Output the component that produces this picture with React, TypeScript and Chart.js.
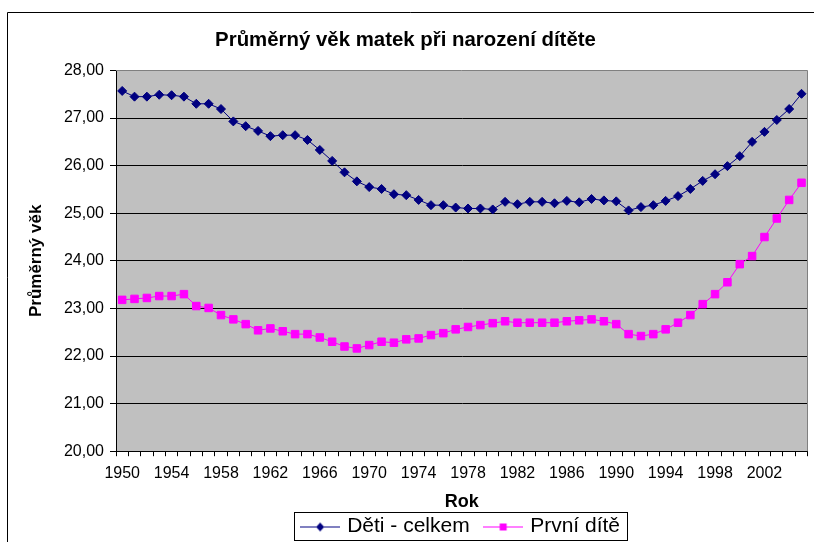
import React, { useEffect, useRef } from 'react';
import { Chart, registerables } from 'chart.js';

Chart.register(...registerables);

const years = [
  '1950', '1951', '1952', '1953', '1954', '1955', '1956', '1957', '1958', '1959',
  '1960', '1961', '1962', '1963', '1964', '1965', '1966', '1967', '1968', '1969',
  '1970', '1971', '1972', '1973', '1974', '1975', '1976', '1977', '1978', '1979',
  '1980', '1981', '1982', '1983', '1984', '1985', '1986', '1987', '1988', '1989',
  '1990', '1991', '1992', '1993', '1994', '1995', '1996', '1997', '1998', '1999',
  '2000', '2001', '2002', '2003', '2004', '2005',
];

const detiCelkem = [
  27.57, 27.45, 27.45, 27.49, 27.48, 27.45, 27.30, 27.30, 27.19, 26.93,
  26.83, 26.73, 26.62, 26.64, 26.64, 26.54, 26.33, 26.10, 25.86, 25.67,
  25.55, 25.51, 25.40, 25.38, 25.28, 25.17, 25.17, 25.12, 25.10, 25.10,
  25.08, 25.24, 25.19, 25.24, 25.24, 25.21, 25.26, 25.23, 25.30, 25.27,
  25.25, 25.06, 25.13, 25.17, 25.26, 25.36, 25.51, 25.68, 25.82, 25.99,
  26.20, 26.50, 26.71, 26.96, 27.19, 27.51,
];

const prvniDite = [
  23.18, 23.20, 23.22, 23.26, 23.26, 23.30, 23.05, 23.01, 22.86, 22.77,
  22.67, 22.54, 22.58, 22.52, 22.46, 22.46, 22.39, 22.30, 22.20, 22.16,
  22.23, 22.30, 22.28, 22.35, 22.37, 22.44, 22.48, 22.56, 22.61, 22.65,
  22.69, 22.73, 22.70, 22.70, 22.70, 22.70, 22.73, 22.75, 22.77, 22.73,
  22.67, 22.46, 22.42, 22.46, 22.56, 22.70, 22.86, 23.09, 23.30, 23.55,
  23.93, 24.10, 24.50, 24.89, 25.28, 25.64,
];

const seriesNames = ['Děti - celkem', 'První dítě'];
const titleText = 'Průměrný věk matek při narození dítěte';
const yTitle = 'Průměrný věk';
const xTitle = 'Rok';
const yMin = 20;
const yMax = 28;

const FONT = "'Liberation Sans', Arial, sans-serif";

function legendIcon(color: string, shape: 'diamond' | 'square'): HTMLCanvasElement {
  const c = document.createElement('canvas');
  c.width = 40;
  c.height = 12;
  const g = c.getContext('2d')!;
  g.strokeStyle = color;
  g.lineWidth = 1;
  g.beginPath();
  g.moveTo(0, 6.5);
  g.lineTo(40, 6.5);
  g.stroke();
  g.fillStyle = color;
  g.beginPath();
  if (shape === 'diamond') {
    g.moveTo(20, 2);
    g.lineTo(24, 6.5);
    g.lineTo(20, 11);
    g.lineTo(16, 6.5);
    g.closePath();
  } else {
    g.rect(16.5, 3, 7, 7);
  }
  g.fill();
  return c;
}

const decorPlugin = {
  id: 'decor',
  beforeDraw(chart: any) {
    const { ctx, chartArea: a } = chart;
    ctx.save();
    ctx.fillStyle = '#C0C0C0';
    ctx.fillRect(a.left, a.top, a.right - a.left, a.bottom - a.top);
    ctx.strokeStyle = '#000000';
    ctx.lineWidth = 1;
    ctx.beginPath();
    ctx.moveTo(7.5, chart.height);
    ctx.lineTo(7.5, 12.5);
    ctx.lineTo(chart.width, 12.5);
    ctx.stroke();
    ctx.restore();
  },
  beforeDatasetsDraw(chart: any) {
    const { ctx, chartArea: a } = chart;
    ctx.save();
    ctx.strokeStyle = '#808080';
    ctx.lineWidth = 1;
    ctx.beginPath();
    ctx.moveTo(a.left, Math.round(a.top) + 0.5);
    ctx.lineTo(Math.round(a.right) - 0.5, Math.round(a.top) + 0.5);
    ctx.lineTo(Math.round(a.right) - 0.5, a.bottom);
    ctx.stroke();
    ctx.restore();
  },
  afterDraw(chart: any) {
    const lg = chart.legend;
    if (!lg || !lg.legendHitBoxes || !lg.legendHitBoxes.length) return;
    const hb = lg.legendHitBoxes;
    let l = Infinity, r = -Infinity, t = Infinity, b = -Infinity;
    hb.forEach((h: any) => {
      l = Math.min(l, h.left);
      r = Math.max(r, h.left + h.width);
      t = Math.min(t, h.top);
      b = Math.max(b, h.top + h.height);
    });
    const { ctx } = chart;
    ctx.save();
    ctx.strokeStyle = '#000000';
    ctx.lineWidth = 1;
    ctx.strokeRect(Math.round(l - 10) + 0.5, Math.round(t - 4) + 0.5, Math.round(r - l + 17), Math.round(b - t + 7));
    ctx.restore();
  },
};

export default function App() {
  const ref = useRef<HTMLCanvasElement | null>(null);

  useEffect(() => {
    document.body.style.margin = '0';
    const canvas = ref.current;
    if (!canvas) return;
    const icons = [legendIcon('#000080', 'diamond'), legendIcon('#FF00FF', 'square')];
    const chart = new Chart(canvas, {
      type: 'line',
      data: {
        labels: years,
        datasets: [
          {
            label: seriesNames[0],
            data: detiCelkem,
            borderColor: '#000080',
            backgroundColor: '#000080',
            borderWidth: 1,
            pointStyle: 'rectRot',
            pointRadius: 4.5,
            pointBorderWidth: 1,
            pointBackgroundColor: '#000080',
            pointBorderColor: '#000080',
            tension: 0,
          },
          {
            label: seriesNames[1],
            data: prvniDite,
            borderColor: '#FF00FF',
            backgroundColor: '#FF00FF',
            borderWidth: 1,
            pointStyle: 'rect',
            pointRadius: 5.3,
            pointBorderWidth: 1,
            pointBackgroundColor: '#FF00FF',
            pointBorderColor: '#FF00FF',
            tension: 0,
          },
        ],
      },
      options: {
        animation: false,
        responsive: false,
        maintainAspectRatio: false,
        layout: { padding: { left: 0, right: 3, top: 0, bottom: -5 } },
        font: { family: FONT },
        plugins: {
          title: {
            display: true,
            text: titleText,
            color: '#000000',
            font: { family: FONT, size: 20.4, weight: 'bold' },
            padding: { top: 28, bottom: 18 },
          },
          legend: {
            display: true,
            position: 'bottom',
            fullSize: false,
            labels: {
              color: '#000000',
              font: { family: FONT, size: 21 },
              usePointStyle: true,
              pointStyleWidth: 33,
              padding: 17,
              generateLabels: (ch: any) =>
                ch.data.datasets.map((ds: any, i: number) => ({
                  text: ds.label,
                  fillStyle: ds.borderColor,
                  strokeStyle: ds.borderColor,
                  lineWidth: 0,
                  pointStyle: icons[i],
                  datasetIndex: i,
                  hidden: false,
                  fontColor: '#000000',
                })),
            },
          },
          tooltip: { enabled: false },
        },
        scales: {
          x: {
            type: 'category',
            offset: true,
            border: { display: true, color: '#000000', width: 1 },
            grid: {
              display: true,
              offset: true,
              drawOnChartArea: false,
              drawTicks: true,
              tickLength: 5,
              tickColor: '#000000',
              color: '#000000',
            },
            ticks: {
              autoSkip: false,
              maxRotation: 0,
              minRotation: 0,
              padding: 8,
              color: '#000000',
              font: { family: FONT, size: 16 },
              callback: (_v: any, i: number) => (i % 4 === 0 ? years[i] : ''),
            },
            title: {
              display: true,
              text: xTitle,
              color: '#000000',
              font: { family: FONT, size: 18, weight: 'bold' },
              padding: { top: 0, bottom: -14 },
            },
          },
          y: {
            min: yMin,
            max: yMax,
            border: { display: true, color: '#000000', width: 1 },
            grid: {
              display: true,
              drawTicks: true,
              tickLength: 6,
              color: (c: any) => (c.tick && c.tick.value === yMax ? 'rgba(0,0,0,0)' : '#000000'),
              tickColor: '#000000',
            },
            ticks: {
              stepSize: 1,
              padding: 6,
              color: '#000000',
              font: { family: FONT, size: 16 },
              callback: (v: any) => Number(v).toFixed(2).replace('.', ','),
            },
            title: {
              display: true,
              text: yTitle,
              color: '#000000',
              font: { family: FONT, size: 17, weight: 'bold' },
              padding: { top: 26, bottom: 0 },
            },
            afterFit: (s: any) => {
              s.width = 116;
            },
          },
        },
      },
      plugins: [decorPlugin],
    } as any);
    return () => chart.destroy();
  }, []);

  return <canvas ref={ref} width={814} height={542} style={{ display: 'block' }} />;
}
